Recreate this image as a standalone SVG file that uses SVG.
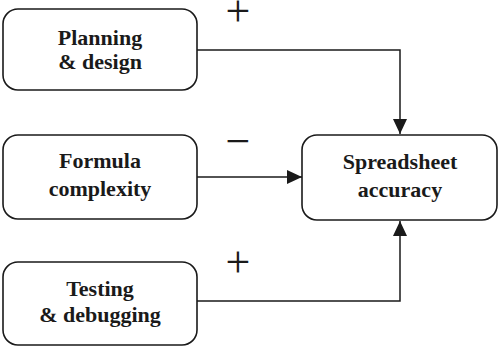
<svg xmlns="http://www.w3.org/2000/svg" width="500" height="349" viewBox="0 0 500 349">
<style>
.box{fill:#fff;stroke:#1a1a1a;stroke-width:1.6}
.lbl{font-family:"Liberation Serif","Times New Roman",serif;font-weight:bold;font-size:22px;fill:#1a1a1a;text-anchor:middle}
.sign{font-family:"Liberation Serif","Times New Roman",serif;font-size:44px;fill:#1a1a1a;text-anchor:middle}
.conn{fill:none;stroke:#1a1a1a;stroke-width:1.5}
</style>
<defs>
<marker id="arr" markerUnits="userSpaceOnUse" markerWidth="15" markerHeight="14" refX="15" refY="7" orient="auto">
<path d="M0,0 L15,7 L0,14 z" fill="#1a1a1a"/>
</marker>
</defs>
<rect width="500" height="349" fill="#fff"/>
<g id="planning">
<rect class="box" x="3" y="9" width="194" height="81" rx="15"/>
<text class="lbl" x="100" y="45">Planning</text>
<text class="lbl" x="100" y="69">&amp; design</text>
</g>
<g id="formula">
<rect class="box" x="3" y="135" width="194" height="84" rx="15"/>
<text class="lbl" x="100" y="168">Formula</text>
<text class="lbl" x="100" y="196">complexity</text>
</g>
<g id="testing">
<rect class="box" x="3" y="262" width="194" height="83" rx="15"/>
<text class="lbl" x="100" y="296">Testing</text>
<text class="lbl" x="100" y="322">&amp; debugging</text>
</g>
<g id="accuracy">
<rect class="box" x="302" y="135" width="195" height="85" rx="15"/>
<text class="lbl" x="400" y="169">Spreadsheet</text>
<text class="lbl" x="400" y="197">accuracy</text>
</g>
<g id="connectors">
<path class="conn" d="M197,50 H400 V134" marker-end="url(#arr)"/>
<path class="conn" d="M197,177 H302" marker-end="url(#arr)"/>
<path class="conn" d="M197,301 H400 V221" marker-end="url(#arr)"/>
<text class="sign" x="238" y="26">+</text>
<text class="sign" x="238" y="156">−</text>
<text class="sign" x="238" y="277">+</text>
</g>
</svg>
